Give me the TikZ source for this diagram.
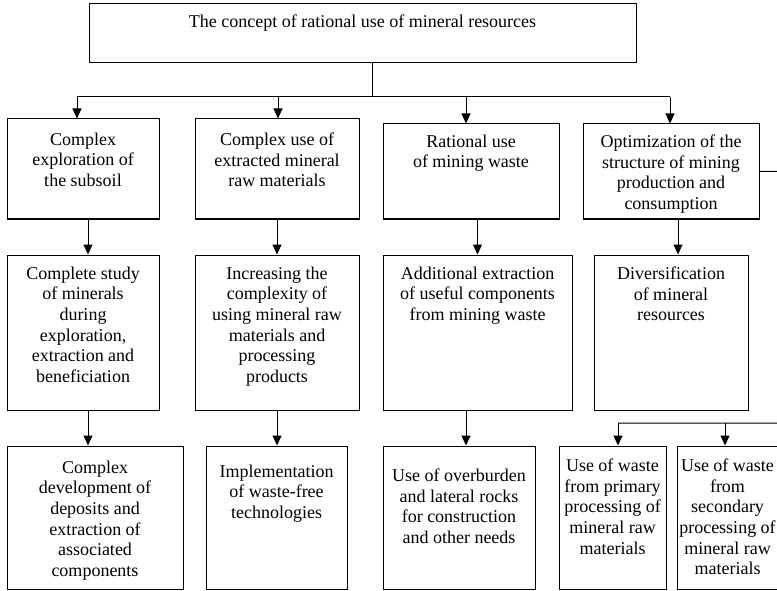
\documentclass[tikz,border=0pt]{standalone}
\usepackage{fontspec}
\setmainfont{Liberation Serif}
\usetikzlibrary{arrows.meta,fit}
\begin{document}
\begin{tikzpicture}[x=1pt,y=-1pt,
  box/.style={draw=black, line width=1pt, inner sep=0pt, fit={#1}},
  txt/.style={anchor=north, inner sep=0pt, align=center, font=\fontsize{18}{20.7}\selectfont},
  conn/.style={draw=black, line width=1pt},
  arr/.style={conn, -{Triangle[length=10pt,width=9pt]}}]
\useasboundingbox (0,0) rectangle (777,591);
\clip (0,0) rectangle (777,591);
\fill[white] (0,0) rectangle (777,591);
% boxes
\node[box={(89,4) (636,63)}] (top) {};
\node[box={(7,119) (159,219)}] (a1) {};
\node[box={(195,119) (359,219)}] (a2) {};
\node[box={(383,124) (559,219)}] (a3) {};
\node[box={(583,124) (759,219)}] (a4) {};
\node[box={(7,255) (159,410)}] (b1) {};
\node[box={(195,255) (359,410)}] (b2) {};
\node[box={(383,255) (572,410)}] (b3) {};
\node[box={(594,255) (748,410)}] (b4) {};
\node[box={(7,446) (183,589)}] (c1) {};
\node[box={(206,446) (347,589)}] (c2) {};
\node[box={(383,446) (535,589)}] (c3) {};
\node[box={(559,446) (666,589)}] (c5) {};
\node[box={(677,446) (784,589)}] (c6) {};
% texts
\node[txt] (ttop) at ([yshift=-11pt]top.north) {The concept of rational use of mineral resources};
\node[txt] (ta1) at ([yshift=-14pt]a1.north) {Complex\\exploration of\\the subsoil};
\node[txt] (ta2) at ([yshift=-14pt]a2.north) {Complex use of\\extracted mineral\\raw materials};
\node[txt] (ta3) at ([yshift=-11pt]a3.north) {Rational use\\of mining waste};
\node[txt] (ta4) at ([yshift=-11pt]a4.north) {Optimization of the\\structure of mining\\production and\\consumption};
\node[txt] (tb1) at ([yshift=-12pt]b1.north) {Complete study\\of minerals\\during\\exploration,\\extraction and\\beneficiation};
\node[txt] (tb2) at ([yshift=-12pt]b2.north) {Increasing the\\complexity of\\using mineral raw\\materials and\\processing\\products};
\node[txt] (tb3) at ([yshift=-12pt]b3.north) {Additional extraction\\of useful components\\from mining waste};
\node[txt] (tb4) at ([yshift=-12pt]b4.north) {Diversification\\of mineral\\resources};
\node[txt] (tc1) at ([yshift=-15pt]c1.north) {Complex\\development of\\deposits and\\extraction of\\associated\\components};
\node[txt] (tc2) at ([yshift=-19pt]c2.north) {Implementation\\of waste-free\\technologies};
\node[txt] (tc3) at ([yshift=-23pt]c3.north) {Use of overburden\\and lateral rocks\\for construction\\and other needs};
\node[txt] (tc5) at ([yshift=-13pt]c5.north) {Use of waste\\from primary\\processing of\\mineral raw\\materials};
\node[txt] (tc6) at ([xshift=-3pt,yshift=-13pt]c6.north) {Use of waste\\from\\secondary\\processing of\\mineral raw\\materials};
% bus coordinates
\coordinate (bus) at (372,97);
\coordinate (k1) at (77,97);
\coordinate (k2) at (278,97);
\coordinate (k3) at (466,97);
\coordinate (k4) at (670,97);
\coordinate (r1) at (800,171);
\coordinate (r2) at (800,423);
\coordinate (m5) at (618,423);
\coordinate (m6) at (725,423);
\coordinate (d3) at (466,410);
% connectors
\draw[conn] (top.south -| bus) -- (bus);
\draw[conn] (k1) -- (k4);
\draw[arr] (k1) -- (k1 |- a1.north);
\draw[arr] (k2) -- (k2 |- a2.north);
\draw[arr] (k3) -- (k3 |- a3.north);
\draw[arr] (k4) -- (k4 |- a4.north);
\draw[arr] ([xshift=5pt]a1.south) -- ([xshift=5pt]b1.north);
\draw[arr] (a2.south) -- (b2.north);
\draw[arr] (b3.north |- a3.south) -- (b3.north);
\draw[arr] ([xshift=7pt]a4.south) -- ([xshift=7pt]b4.north);
\draw[arr] ([xshift=5pt]b1.south) -- ([xshift=5pt]b1.south |- c1.north);
\draw[arr] (b2.south) -- (b2.south |- c2.north);
\draw[arr] (d3) -- (d3 |- c3.north);
\draw[conn] (a4.east) -- (r1) -- (r2) -- (m5);
\draw[arr] (m5) -- (m5 |- c5.north);
\draw[arr] (m6) -- (m6 |- c6.north);
\end{tikzpicture}
\end{document}
